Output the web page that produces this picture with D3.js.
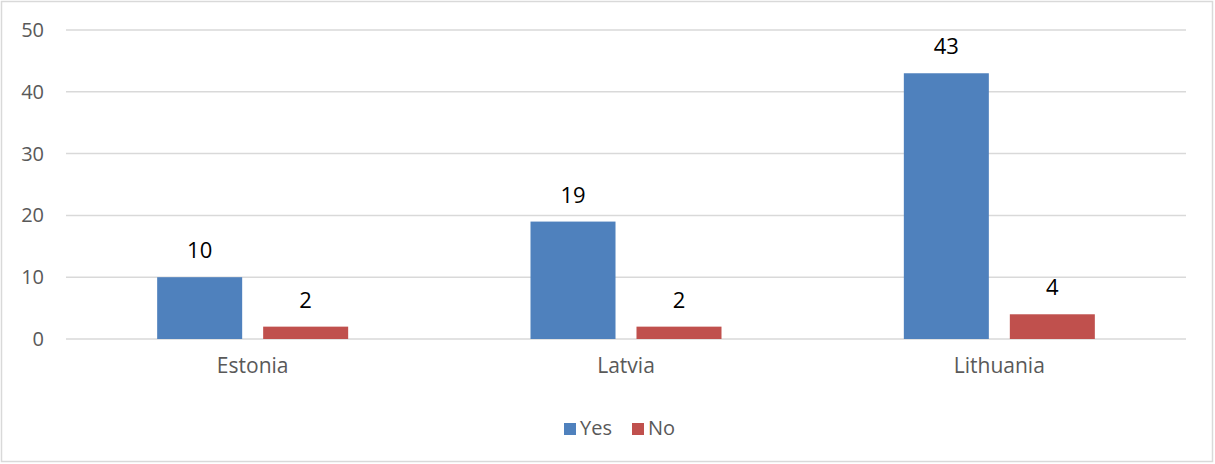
<!DOCTYPE html>
<html><head><meta charset="utf-8">
<script src="https://cdn.jsdelivr.net/npm/d3@7"></script>
<style>body{margin:0;background:#fff;} svg{display:block;}</style>
</head><body>
<script>
const categories = ["Estonia", "Latvia", "Lithuania"];
const seriesNames = ["Yes", "No"];
const yesValues = [10, 19, 43];
const noValues = [2, 2, 4];
const yTicks = [0, 10, 20, 30, 40, 50];

const W = 1215, H = 464;
const colors = {Yes: "#4F81BD", No: "#C0504D"};
const font = "'Open Sans', 'Noto Sans', sans-serif";

const svg = d3.select("body").append("svg").attr("width", W).attr("height", H);
svg.append("rect").attr("x", 1.5).attr("y", 1.5).attr("width", W - 4).attr("height", H - 4)
  .attr("fill", "#fff").attr("stroke", "#d9d9d9").attr("stroke-width", 1.5);

const x0 = d3.scaleBand().domain(categories).range([66, 1186]).paddingInner(0).paddingOuter(0);
const y = d3.scaleLinear().domain([0, 50]).range([339, 30]);
const x1 = d3.scaleBand().domain(seriesNames).range([0, 191]).paddingInner(0.198);

// gridlines
svg.append("g").selectAll("line").data(yTicks).join("line")
  .attr("x1", 66).attr("x2", 1186)
  .attr("y1", d => y(d)).attr("y2", d => y(d))
  .attr("stroke", "#d9d9d9").attr("stroke-width", 1.5);

// y axis labels
const yAxis = d3.axisLeft(y).tickValues(yTicks).tickSize(0).tickPadding(0);
const yg = svg.append("g").attr("transform", "translate(44,0)").call(yAxis);
yg.select(".domain").remove();
yg.selectAll("text").attr("font-family", font).attr("font-size", 20).attr("fill", "#595959");

const data = categories.map((c, i) => ({cat: c, vals: [{s: "Yes", v: yesValues[i]}, {s: "No", v: noValues[i]}]}));

const groups = svg.append("g").selectAll("g").data(data).join("g")
  .attr("transform", d => `translate(${x0(d.cat) + x0.bandwidth() / 2 - 95.5},0)`);

groups.selectAll("rect").data(d => d.vals).join("rect")
  .attr("x", d => x1(d.s)).attr("width", x1.bandwidth())
  .attr("y", d => y(d.v)).attr("height", d => y(0) - y(d.v))
  .attr("fill", d => colors[d.s]);

groups.selectAll("text").data(d => d.vals).join("text")
  .attr("x", d => x1(d.s) + x1.bandwidth() / 2)
  .attr("y", d => y(d.v) - 19)
  .attr("text-anchor", "middle")
  .attr("font-family", font).attr("font-size", 22).attr("fill", "#000")
  .text(d => d.v);

// x axis labels
const xAxis = d3.axisBottom(x0).tickSize(0).tickPadding(0);
const xg = svg.append("g").attr("transform", "translate(0,358)").call(xAxis);
xg.select(".domain").remove();
xg.selectAll("text").attr("font-family", font).attr("font-size", 21).attr("fill", "#595959");

// legend
const legend = svg.append("g");
const legendItems = [{s: "Yes", x: 564}, {s: "No", x: 632}];
legend.selectAll("rect").data(legendItems).join("rect")
  .attr("x", d => d.x).attr("y", 423).attr("width", 12).attr("height", 12)
  .attr("fill", d => colors[d.s]);
legend.selectAll("text").data(legendItems).join("text")
  .attr("x", d => d.x + 16).attr("y", 435)
  .attr("font-family", font).attr("font-size", 20).attr("fill", "#595959")
  .text(d => d.s);
</script>
</body></html>
